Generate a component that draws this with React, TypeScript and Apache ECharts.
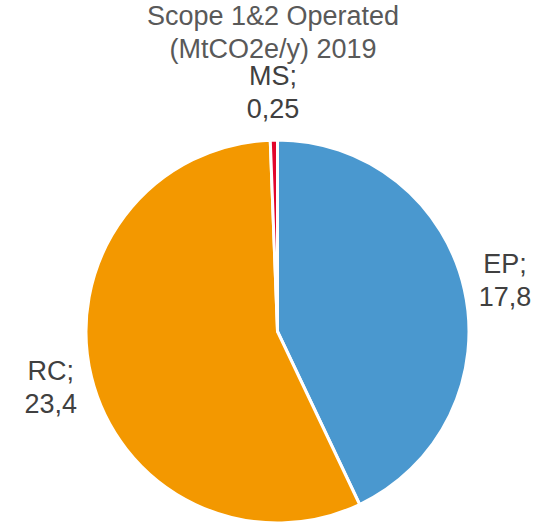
import React, { useEffect, useRef } from "react";
import * as echarts from "echarts";

const titleLines = ["Scope 1&2 Operated", "(MtCO2e/y) 2019"];
const categories = ["EP", "RC", "MS"];
const values = [17.8, 23.4, 0.25];
const sliceColors = ["#4A98CF", "#F39800", "#E2062C"];

const W = 546;
const H = 524;
const CX = 277.5;
const CY = 331.5;
const R = 191.5;

function fmt(v: number) {
  return String(v).replace(".", ",");
}

export default function App() {
  const ref = useRef<HTMLDivElement>(null);
  useEffect(() => {
    if (!ref.current) return;
    const chart = echarts.init(ref.current, undefined, { renderer: "svg" });
    const total = values.reduce((a, b) => a + b, 0);
    const midAngles: number[] = [];
    let acc = 0;
    values.forEach((v) => {
      const a0 = (acc / total) * Math.PI * 2;
      acc += v;
      const a1 = (acc / total) * Math.PI * 2;
      midAngles.push((a0 + a1) / 2);
    });
    chart.setOption({
      animation: false,
      backgroundColor: "#ffffff",
      title: {
        text: titleLines.join("\n"),
        left: "center",
        top: -1,
        padding: 0,
        textStyle: {
          fontFamily: "Liberation Sans, Arial, sans-serif",
          fontSize: 27,
          fontWeight: "normal",
          color: "#595959",
          lineHeight: 33,
        },
      },
      series: [
        {
          type: "pie",
          center: [CX, CY],
          radius: [0, R],
          startAngle: 90,
          clockwise: true,
          avoidLabelOverlap: false,
          itemStyle: { borderColor: "#ffffff", borderWidth: 3 },
          label: {
            show: true,
            position: "outside",
            formatter: (p: any) => `${p.name};\n${fmt(p.value)}`,
            fontFamily: "Liberation Sans, Arial, sans-serif",
            fontSize: 27,
            lineHeight: 33,
            color: "#404040",
          },
          labelLine: { show: false },
          labelLayout: (p: any) => {
            const a = midAngles[p.dataIndex];
            const d = R + 40 + 8 * Math.abs(Math.cos(a));
            return {
              x: CX + d * Math.sin(a),
              y: CY - d * Math.cos(a),
              align: "center",
              verticalAlign: "middle",
            };
          },
          emphasis: { disabled: true },
          data: categories.map((c, i) => ({
            name: c,
            value: values[i],
            itemStyle: { color: sliceColors[i] },
          })),
        },
      ],
    });
    return () => chart.dispose();
  }, []);
  return (
    <div
      ref={ref}
      style={{ position: "fixed", left: 0, top: 0, width: W, height: H }}
    />
  );
}
